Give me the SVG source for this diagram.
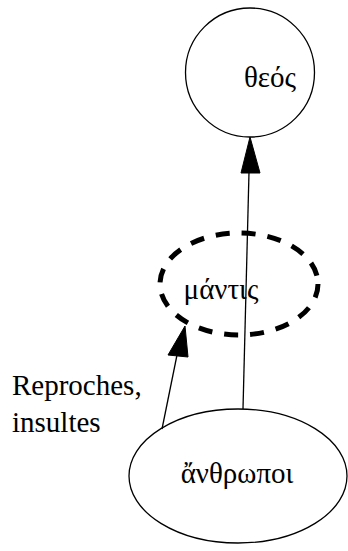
<svg xmlns="http://www.w3.org/2000/svg" width="348" height="551" viewBox="0 0 348 551">
<style>
text{font-family:"Liberation Serif","DejaVu Serif",serif;font-size:29px;fill:#000}
.n{fill:none;stroke:#000;stroke-width:1.3}
.d{fill:none;stroke:#000;stroke-width:5;stroke-dasharray:14 12}
.e{fill:none;stroke:#000;stroke-width:1.3}
.h{fill:#000;stroke:#000;stroke-width:1}
</style>
<rect width="348" height="551" fill="#fff"/>
<g id="theos">
<circle class="n" cx="250" cy="72.5" r="64.5"/>
<text x="270" y="87" text-anchor="middle">θεός</text>
</g>
<g id="mantis">
<ellipse class="d" cx="239" cy="284" rx="79" ry="51"/>
<text x="221" y="299" text-anchor="middle">μάντις</text>
</g>
<g id="anthropoi">
<ellipse class="n" cx="238" cy="476" rx="109" ry="67"/>
<text x="237" y="483" text-anchor="middle">ἄνθρωποι</text>
</g>
<g id="edges">
<line class="e" x1="243" y1="409" x2="249" y2="172"/>
<polygon class="h" points="250,137 241,173 260,173"/>
<line class="e" x1="162" y1="429" x2="177" y2="355"/>
<polygon class="h" points="185,326 168,355 188,357"/>
<text x="12" y="395">Reproches,</text>
<text x="12" y="432">insultes</text>
</g>
</svg>
